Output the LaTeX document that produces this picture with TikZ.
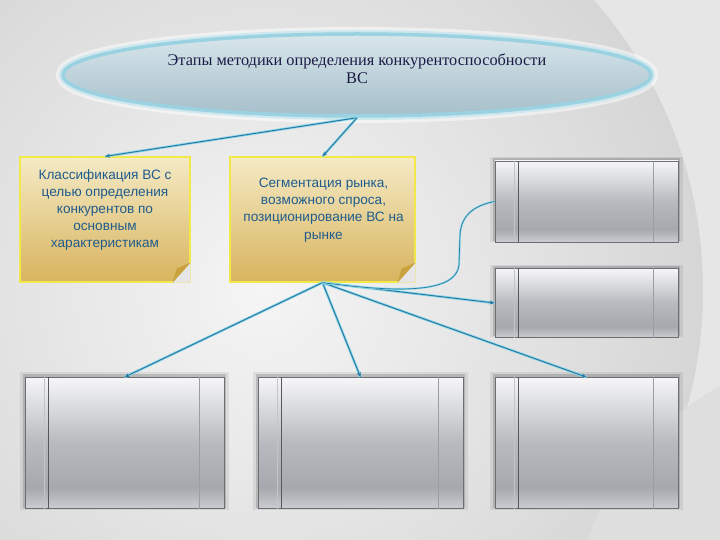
\documentclass[tikz,border=0pt]{standalone}
\usepackage{fontspec}
\setmainfont{Liberation Serif}
\newfontfamily\boxfont{Liberation Sans}
\usetikzlibrary{arrows.meta,shapes.geometric,shadows}
\definecolor{bgbase}{HTML}{E6E6E6}
\definecolor{bgrim}{HTML}{D6D6D6}
\definecolor{bglight}{HTML}{F5F5F5}
\definecolor{lineblue}{HTML}{2A7BA3}
\definecolor{glow}{HTML}{8ED8EA}
\definecolor{txtblue}{HTML}{1F5C8C}
\definecolor{ytop}{HTML}{F5EAC5}
\definecolor{ybot}{HTML}{D8B45E}
\definecolor{yedge}{HTML}{F1E94A}
\definecolor{yfold}{HTML}{C9A13E}
\definecolor{gedge}{HTML}{6B6E73}
\definecolor{gline}{HTML}{55585C}
\definecolor{glight}{HTML}{9A9DA2}
\definecolor{eedge}{HTML}{9AD2E2}
\definecolor{etop}{HTML}{D8E6EC}
\definecolor{ebot}{HTML}{A6BFCA}
\definecolor{eglow}{HTML}{C6E6EF}
\definecolor{titletxt}{HTML}{1B1B45}
\definecolor{gb}{HTML}{CBCDD1}
\definecolor{gd}{HTML}{A5A8AC}
\definecolor{gm}{HTML}{B7BABE}
\definecolor{gt}{HTML}{F6F6F8}
\pgfdeclareverticalshading{greyshade}{100bp}{color(0bp)=(gb); color(25bp)=(gb); color(33bp)=(gd); color(50bp)=(gm); color(75bp)=(gt); color(100bp)=(gt)}
\tikzset{
  ybox/.style={rectangle, draw=yedge, line width=1.2pt, top color=ytop, bottom color=ybot,
    minimum width=170, minimum height=125, inner sep=0pt},
  btext/.style={font=\boxfont\fontsize{13.6}{17.2}\selectfont, text=txtblue, align=center},
  gbox/.style={rectangle, draw=gedge, line width=0.8pt, shade, shading=greyshade, inner sep=0pt,
    general shadow={fill=black, opacity=.07, shadow scale=1.05, shadow yshift=2pt},
    general shadow={fill=black, opacity=.15, shadow scale=1.02, shadow yshift=2pt}},
  conn/.style={draw=lineblue, line width=1pt, preaction={draw=glow, line width=2.6pt, -},
    -{Stealth[length=5pt,width=4pt]}},
  thinconn/.style={draw=lineblue, line width=0.7pt, preaction={draw=glow, line width=2pt, -}}
}
\begin{document}
\begin{tikzpicture}[x=1pt,y=-1pt]
% background
\begin{scope}
  \clip (0,0) rectangle (720,540);
  \fill[bgbase] (0,0) rectangle (720,540);
  \shade[inner color=bglight, outer color=bgrim] (263,290) circle (440);
  \fill[bgbase!60!bglight] (860,640) circle (290);
  \fill[bgrim!50!bgbase] (860,640) circle (290) (880,660) circle (250);
\end{scope}
\useasboundingbox (0,0) rectangle (720,540);

% title ellipse
\node[ellipse, minimum width=588, minimum height=82, draw=eedge, line width=3.5pt,
  top color=etop, bottom color=ebot,
  preaction={draw=white, line width=14pt, opacity=.5},
  preaction={draw=eglow, line width=8pt, opacity=.8}]
  (title) at (357,75) {};
\node[font=\fontsize{16.3}{18}\selectfont, text=titletxt, align=center] (titletext) at (357,69)
  {Этапы методики  определения конкурентоспособности\\ВС};

% yellow boxes
\node[ybox] (cls) at (105,219.5) {};
\node[ybox, minimum width=185] (seg) at (322.5,219.5) {};
\foreach \b in {cls,seg}{
  \fill[bgbase] ([yshift=20]\b.south east) -- (\b.south east) -- ([xshift=-18]\b.south east) -- cycle;
  \fill[yfold] ([yshift=20]\b.south east) -- ([xshift=-18]\b.south east) -- ([xshift=-14,yshift=14]\b.south east) -- cycle;
}
\node[btext] (clstext) at (105,210) {Классификация ВС с\\целью определения\\конкурентов по\\основным\\характеристикам};
\node[btext] (segtext) at (323.5,210) {Сегментация рынка,\\возможного спроса,\\позиционирование ВС на\\рынке};

% grey boxes
\node[gbox, minimum width=183, minimum height=81] (r1) at (586.5,201.5) {};
\node[gbox, minimum width=183, minimum height=69] (r2) at (586.5,303) {};
\node[gbox, minimum width=199, minimum height=131] (b1) at (124.5,443) {};
\node[gbox, minimum width=205, minimum height=131] (b2) at (360.5,443) {};
\node[gbox, minimum width=183, minimum height=131] (b3) at (586.5,443) {};
\foreach \n in {r1,r2,b1,b2,b3}{
  \draw[glight!60!white, line width=0.5pt] ([xshift=20]\n.north west) -- ([xshift=20]\n.south west);
  \draw[gline, line width=0.8pt] ([xshift=24]\n.north west) -- ([xshift=24]\n.south west);
  \draw[glight, line width=0.6pt] ([xshift=-25]\n.north east) -- ([xshift=-25]\n.south east);
}

% connectors
\draw[conn] (title.south) -- (cls.north);
\draw[conn] (title.south) -- (seg.north);
\draw[conn] (seg.south) -- (b1.north);
\draw[conn] (seg.south) -- (b2.north);
\draw[conn] (seg.south) -- (b3.north);
\draw[conn] (seg.south) -- (r2.west);
\draw[thinconn] (seg.south) .. controls (400,293) and (456,293) .. (459,265)
  -- (460,235) .. controls (461,214) and (476,205) .. (r1.west);
\end{tikzpicture}
\end{document}
